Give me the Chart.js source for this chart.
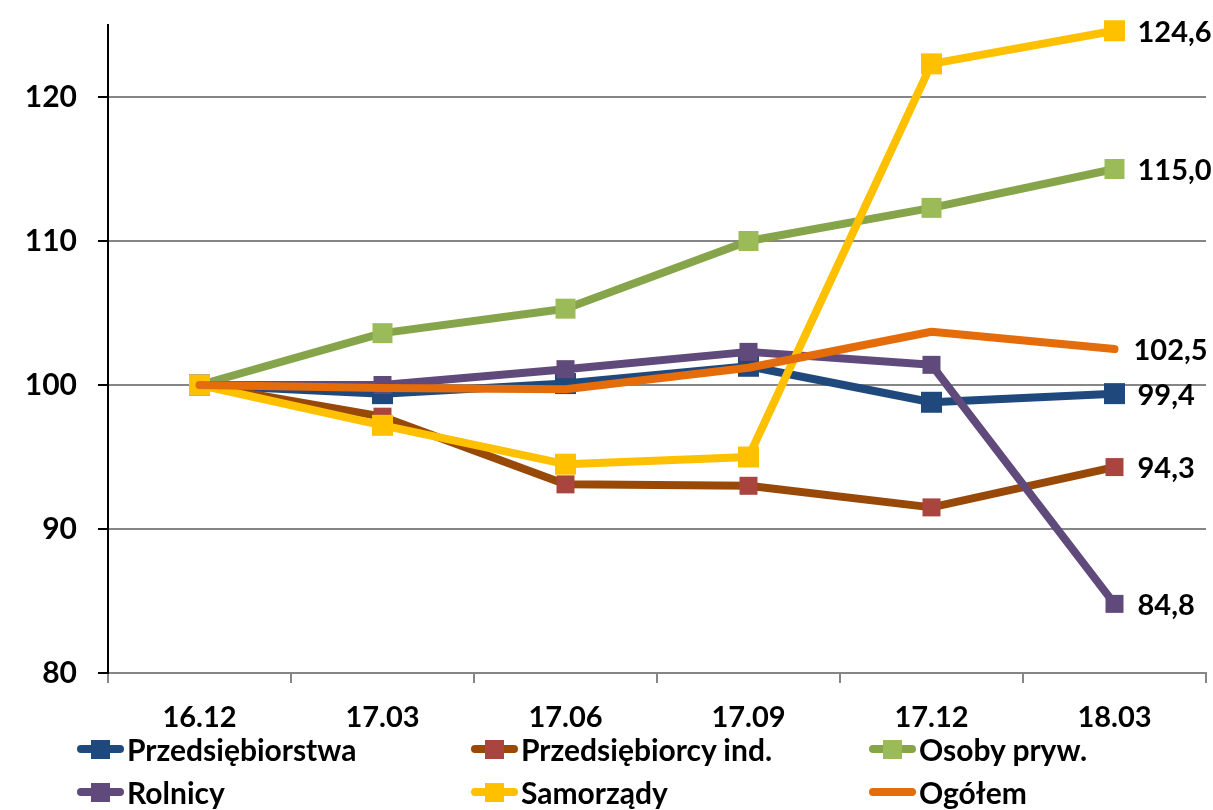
<!DOCTYPE html>
<html><head><meta charset="utf-8">
<script src="https://cdn.jsdelivr.net/npm/chart.js@4/dist/chart.umd.min.js"></script>
<style>
html,body{margin:0;padding:0;background:#fff;}
#wrap{position:relative;width:1213px;height:810px;overflow:hidden;}
#legend{position:absolute;left:0;top:0;width:1213px;height:810px;pointer-events:none;font-family:Lato, sans-serif;font-weight:bold;font-size:30px;color:#000;}
.item{position:absolute;display:flex;align-items:center;height:40px;transform:translateY(-50%);white-space:nowrap;}
.sym{position:relative;width:47px;height:40px;margin-right:3px;flex:none;}
.sym .ln{position:absolute;left:0;right:0;top:50%;height:8px;margin-top:-4px;border-radius:4px;}
.sym .mk{position:absolute;left:50%;top:50%;width:19px;height:19px;margin:-9.5px 0 0 -9.5px;}
</style></head><body>
<div id="wrap"><canvas id="c"></canvas><div id="legend"></div></div>
<script>
// ---- data ----
const categories = ['16.12', '17.03', '17.06', '17.09', '17.12', '18.03'];
const przedsiebiorstwa = [100, 99.4, 100.1, 101.3, 98.8, 99.4];
const przedsiebiorcyInd = [100, 97.8, 93.1, 93.0, 91.5, 94.3];
const osobyPryw = [100, 103.6, 105.3, 110.0, 112.3, 115.0];
const rolnicy = [100, 100.0, 101.1, 102.3, 101.4, 84.8];
const samorzady = [100, 97.2, 94.5, 95.0, 122.3, 124.6];
const ogolem = [100, 99.8, 99.7, 101.2, 103.7, 102.5];
const seriesNames = ['Przedsiębiorstwa', 'Przedsiębiorcy ind.', 'Osoby pryw.', 'Rolnicy', 'Samorządy', 'Ogółem'];
const yTickValues = [80, 90, 100, 110, 120];

// ---- styles ----
const seriesValues = [przedsiebiorstwa, przedsiebiorcyInd, osobyPryw, rolnicy, samorzady, ogolem];
const lineColors = ['#1F497D', '#984807', '#86A44A', '#604A7B', '#FFC000', '#E46C0A'];
const markerColors = ['#1F497D', '#A9443F', '#9BBB59', '#604A7B', '#FFC000', null];
const markerSides = [21, 18, 20, 18, 21, 0];

const FONT = 'Lato, sans-serif';

const datasets = seriesValues.map((vals, i) => ({
  label: seriesNames[i],
  data: vals,
  borderColor: lineColors[i],
  backgroundColor: markerColors[i] || lineColors[i],
  borderWidth: 8,
  borderCapStyle: 'round',
  borderJoinStyle: 'round',
  pointStyle: 'rect',
  pointRadius: markerSides[i] / Math.SQRT2,
  pointHoverRadius: markerSides[i] / Math.SQRT2,
  pointBackgroundColor: markerColors[i] || lineColors[i],
  pointBorderWidth: 0,
  pointBorderColor: markerColors[i] || lineColors[i],
  tension: 0,
  clip: false,
  order: seriesValues.length - i
}));

const labelPlugin = {
  id: 'endLabels',
  afterDatasetsDraw(chart) {
    const ctx = chart.ctx;
    ctx.save();
    ctx.font = 'bold 29px ' + FONT;
    ctx.fillStyle = '#000';
    ctx.textAlign = 'left';
    ctx.textBaseline = 'middle';
    chart.data.datasets.forEach((ds, i) => {
      const meta = chart.getDatasetMeta(i);
      const last = meta.data[meta.data.length - 1];
      const v = ds.data[ds.data.length - 1];
      const off = markerSides[i] ? 23 : 19;
      ctx.fillText(v.toFixed(1).replace('.', ','), last.x + off, last.y + 2);
    });
    ctx.restore();
  }
};

new Chart(document.getElementById('c'), {
  type: 'line',
  data: { labels: categories, datasets },
  options: {
    responsive: true,
    maintainAspectRatio: false,
    animation: false,
    devicePixelRatio: 1,
    layout: { autoPadding: false, padding: { top: 25, right: 7, bottom: 0, left: 0 } },
    plugins: { legend: { display: false }, tooltip: { enabled: false } },
    scales: {
      x: {
        offset: true,
        grid: { drawOnChartArea: false, drawTicks: true, tickLength: 10, color: '#868686', lineWidth: 2, offset: true },
        border: { display: true, color: '#868686', width: 2 },
        ticks: { color: '#000', font: { family: FONT, weight: 'bold', size: 29 }, padding: 17, maxRotation: 0, autoSkip: false },
        afterFit(scale) { scale.height = 137; scale.paddingLeft = 0; scale.paddingRight = 0; scale.paddingTop = 0; scale.paddingBottom = 0; }
      },
      y: {
        min: 80, max: 125,
        ticks: { stepSize: 10, color: '#000', font: { family: FONT, weight: 'bold', size: 30 }, padding: 21 },
        afterBuildTicks(scale) { scale.ticks = yTickValues.map(v => ({ value: v })); },
        grid: { color: '#868686', lineWidth: 2, tickLength: 10, tickColor: '#000' },
        border: { display: true, color: '#000', width: 2 },
        afterFit(scale) { scale.width = 108; scale.paddingTop = 0; scale.paddingBottom = 0; scale.paddingLeft = 0; scale.paddingRight = 0; }
      }
    }
  },
  plugins: [labelPlugin]
});

// ---- HTML legend ----
const legendEl = document.getElementById('legend');
const colX = [77, 471, 869];
const rowY = [749, 792];
seriesNames.forEach((name, i) => {
  const item = document.createElement('div');
  item.className = 'item';
  item.style.left = colX[i % 3] + 'px';
  item.style.top = rowY[Math.floor(i / 3)] + 'px';
  const sym = document.createElement('div');
  sym.className = 'sym';
  const ln = document.createElement('div');
  ln.className = 'ln';
  ln.style.background = lineColors[i];
  sym.appendChild(ln);
  if (markerColors[i]) {
    const mk = document.createElement('div');
    mk.className = 'mk';
    mk.style.background = markerColors[i];
    sym.appendChild(mk);
  }
  item.appendChild(sym);
  const t = document.createElement('span');
  t.textContent = name;
  item.appendChild(t);
  legendEl.appendChild(item);
});
</script>
</body></html>
